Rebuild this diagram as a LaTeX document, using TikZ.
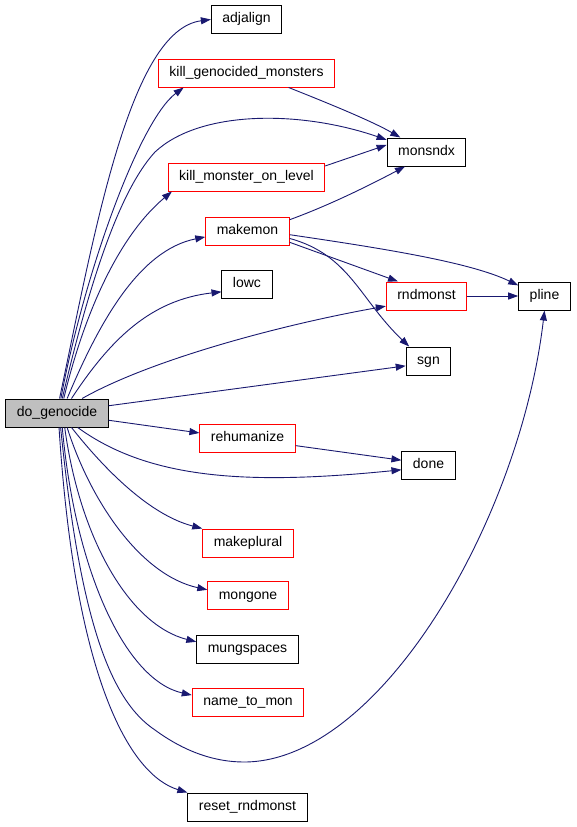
\documentclass[tikz,border=0pt]{standalone}
\usepackage{fontspec}
\setmainfont{Liberation Sans}
\usetikzlibrary{arrows.meta}
\definecolor{edgeblue}{HTML}{191970}
\definecolor{callred}{HTML}{FF0000}
\definecolor{rootgray}{HTML}{BFBFBF}

\begin{document}
\begin{tikzpicture}[x=1pt,y=-1pt,
	fn/.style={draw=black, fill=white, line width=1pt, minimum height=28pt, inner xsep=11pt,
		text height=10pt, text depth=3pt, font=\fontsize{14}{16}\selectfont},
	fnred/.style={fn, draw=callred},
	fnroot/.style={fn, fill=rootgray},
	call/.style={edgeblue, line width=0.9pt, -{Triangle[length=10pt,width=7pt]}}]
	% Fixed white canvas, pixel coordinates measured from the top left.
	\path[use as bounding box] (0,0) rectangle (576,827);
	\fill[white] (0,0) rectangle (576,827);

	% Caller.
	\node[fnroot] (dg) at (57,413) {do\_genocide};

	% Direct callees, one column.
	\node[fn]    (adj)  at (246.5,19.5) {adjalign};
	\node[fnred] (kgm)  at (246.5,73)   {kill\_genocided\_monsters};
	\node[fnred] (kmol) at (246.5,177)  {kill\_monster\_on\_level};
	\node[fnred] (mk)   at (247.5,231)  {makemon};
	\node[fn]    (lowc) at (247,284)    {lowc};
	\node[fnred] (rh)   at (247.5,438)  {rehumanize};
	\node[fnred] (mpl)  at (248,543)    {makeplural};
	\node[fnred] (mg)   at (248,595.5)  {mongone};
	\node[fn]    (msp)  at (247.5,649)  {mungspaces};
	\node[fnred] (ntm)  at (248,702)    {name\_to\_mon};
	\node[fn]    (rr)   at (247.5,807)  {reset\_rndmonst};

	% Second level.
	\node[fn]    (mon)  at (426.5,152)  {monsndx};
	\node[fnred] (rnd)  at (426.5,296)  {rndmonst};
	\node[fn]    (sgn)  at (428.5,361)  {sgn};
	\node[fn]    (done) at (428.5,465)  {done};
	\node[fn]    (pl)   at (544.5,296)  {pline};

	% Calls leaving do_genocide upwards.
	\draw[call] (dg.80) .. controls (95,230) and (130,30) .. (adj.west);
	\draw[call] (dg.75) .. controls (85,270) and (140,120) .. (kgm.193);
	\draw[call] (dg.70) .. controls (90,280) and (120,190) .. (155,152)
		.. controls (200,110) and (300,110) .. (mon.163);
	\draw[call] (dg.65) .. controls (85,310) and (120,235) .. (kmol.191);
	\draw[call] (dg.55) .. controls (100,320) and (140,250) .. (mk.188);
	\draw[call] (dg.45) .. controls (110,340) and (150,300) .. (lowc.197);
	\draw[call] (dg.30) .. controls (150,360) and (280,325) .. (rnd.194);
	\draw[call] (dg.8) -- (sgn.192);
	\draw[call] (dg.-8) -- (rh.174);

	% Calls leaving do_genocide downwards.
	\draw[call] (dg.-35) .. controls (150,480) and (250,485) .. (done.190);
	\draw[call] (dg.-45) .. controls (105,470) and (150,515) .. (mpl.north west);
	\draw[call] (dg.-55) .. controls (90,500) and (140,575) .. (mg.172);
	\draw[call] (dg.-62) .. controls (80,540) and (130,625) .. (msp.172);
	\draw[call] (dg.-70) .. controls (75,570) and (125,680) .. (ntm.173);
	\draw[call] (dg.-76) .. controls (80,620) and (110,700) .. (155,730)
		.. controls (185,752) and (215,762) .. (244,762)
		.. controls (380,762) and (520,520) .. (pl.south);
	\draw[call] (dg.-82) .. controls (75,680) and (130,775) .. (rr.north west);

	% Calls between callees.
	\draw[call] (kgm.-19) .. controls (320,100) and (370,120) .. (mon.151);
	\draw[call] (kmol.8) -- (mon.170);
	\draw[call] (mk.15) .. controls (330,205) and (370,185) .. (mon.214);
	\draw[call] (mk.-5) .. controls (380,248) and (470,262) .. (pl.158);
	\draw[call] (mk.-15) -- (rnd.153);
	\draw[call] (mk.-10) .. controls (350,255) and (360,300) .. (sgn.143);
	\draw[call] (rnd) -- (pl);
	\draw[call] (rh.-9) -- (done.170);
\end{tikzpicture}
\end{document}
